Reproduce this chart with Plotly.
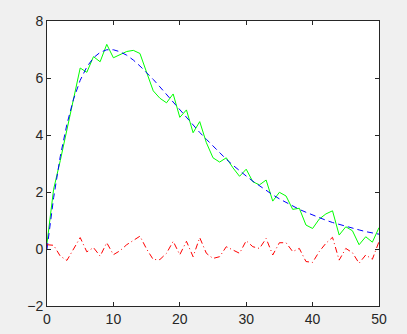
import plotly.graph_objects as go

t = list(range(0, 51))

fit_curve = [0.0, 1.80, 3.25, 4.38, 5.26, 5.92, 6.39, 6.71, 6.90, 6.99, 6.99,
             6.92, 6.80, 6.63, 6.42, 6.20, 5.95, 5.69, 5.42, 5.15, 4.88,
             4.61, 4.35, 4.09, 3.85, 3.61, 3.37, 3.15, 2.94, 2.74, 2.56,
             2.38, 2.21, 2.05, 1.90, 1.76, 1.63, 1.51, 1.39, 1.29, 1.19,
             1.10, 1.01, 0.93, 0.86, 0.79, 0.73, 0.67, 0.61, 0.56, 0.52]

measured = [0.2, 2.1, 3.1, 4.2, 5.3, 6.35, 6.2, 6.75, 6.57, 7.18, 6.71,
            6.82, 6.93, 6.97, 6.86, 6.2, 5.55, 5.29, 5.13, 5.44, 4.62,
            4.88, 4.08, 4.47, 3.73, 3.2, 3.05, 3.2, 2.85, 2.55, 2.8,
            2.36, 2.25, 2.42, 1.68, 1.99, 1.86, 1.39, 1.43, 0.84, 0.72,
            1.05, 1.23, 1.34, 0.49, 0.78, 0.64, 0.15, 0.43, 0.24, 0.75]

residual = [0.15, 0.13, -0.25, -0.4, 0.0, 0.4, -0.1, 0.05, -0.25, 0.22, -0.2,
            -0.06, 0.15, 0.3, 0.45, 0.0, -0.37, -0.37, -0.15, 0.27, -0.2,
            0.27, -0.27, 0.4, -0.15, -0.33, -0.27, 0.08, -0.04, -0.15, 0.29,
            0.08, 0.02, 0.37, -0.21, 0.22, 0.22, -0.09, 0.02, -0.44, -0.47,
            -0.09, 0.2, 0.41, -0.39, 0.02, -0.13, -0.5, -0.21, -0.36, 0.26]

x_ticks = [0, 10, 20, 30, 40, 50]
y_ticks = [-2, 0, 2, 4, 6, 8]

fig = go.Figure()
fig.add_trace(go.Scatter(x=t, y=measured, mode="lines",
                         line=dict(color="#00ff00", width=1)))
fig.add_trace(go.Scatter(x=t, y=fit_curve, mode="lines",
                         line=dict(color="#0000ff", width=1, dash="6px,4px")))
fig.add_trace(go.Scatter(x=t, y=residual, mode="lines",
                         line=dict(color="#ff0000", width=1, dash="6px,3px,1px,3px")))

axis_common = dict(showline=True, linecolor="#262626", linewidth=1, mirror="allticks",
                   ticks="inside", ticklen=4, tickcolor="#262626", showgrid=False,
                   zeroline=False, automargin=False,
                   tickfont=dict(family="Liberation Sans, Arial", size=14, color="#262626"))

fig.update_xaxes(range=[0, 50], tickvals=x_ticks, **axis_common)
fig.update_yaxes(range=[-2, 8], tickvals=y_ticks, **axis_common)

fig.update_layout(width=407, height=334, showlegend=False,
                  paper_bgcolor="#f0f0f0", plot_bgcolor="#ffffff",
                  margin=dict(l=47, r=28, t=21, b=28))

fig.write_html("out.html", config={"displayModeBar": False},
               post_script="document.body.style.margin='0';document.body.style.background='#f0f0f0';")
